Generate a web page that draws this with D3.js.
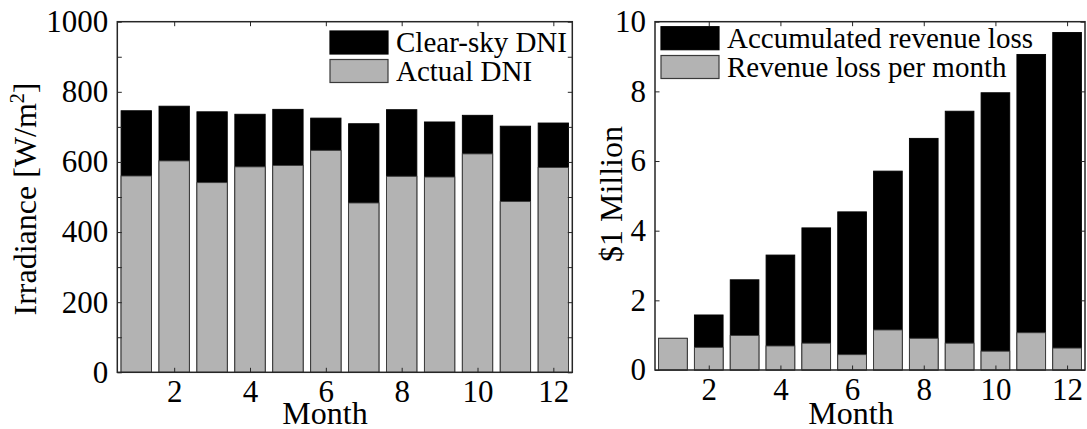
<!DOCTYPE html>
<html>
<head>
<meta charset="utf-8">
<script src="https://cdn.jsdelivr.net/npm/d3@7/dist/d3.min.js"></script>
<style>
  html, body { margin: 0; padding: 0; background: #fff; }
  svg { display: block; }
  text { font-family: "Liberation Serif", "Times New Roman", serif; fill: #000; }
</style>
</head>
<body>
<svg id="chart" width="1087" height="429"></svg>
<script>
// Monthly values
const months = [1, 2, 3, 4, 5, 6, 7, 8, 9, 10, 11, 12];
const monthTicks = [2, 4, 6, 8, 10, 12];

// Left panel: irradiance [W/m^2]
const clearSkyDNI = [746, 759, 743, 736, 750, 725, 709, 749, 714, 733, 702, 711];
const actualDNI   = [560, 603, 541, 586, 590, 633, 483, 559, 557, 623, 487, 584];
const irradianceTicks = [0, 200, 400, 600, 800, 1000];
const irradianceMinorTicks = [100, 300, 500, 700, 900];

// Right panel: revenue loss [$1 Million]
const accumulatedLoss = [0.91, 1.58, 2.59, 3.30, 4.08, 4.54, 5.71, 6.65, 7.43, 7.96, 9.06, 9.69];
const monthlyLoss     = [0.91, 0.65, 0.99, 0.69, 0.77, 0.44, 1.15, 0.91, 0.77, 0.54, 1.07, 0.63];
const lossTicks = [0, 2, 4, 6, 8, 10];

const BLACK = "#000";
const GRAY = "#b3b3b3";
const FRAME = "#262626";
const TICK_LEN = 4.5;

const svg = d3.select("#chart");
svg.append("rect").attr("width", 1087).attr("height", 429).attr("fill", "#fff");

function drawPanel(cfg) {
  const x = d3.scaleLinear().domain([0.5, 12.5]).range([cfg.left, cfg.right]);
  const y = d3.scaleLinear().domain(cfg.yDomain).range([cfg.bottom, cfg.top]);
  const g = svg.append("g");
  const barW = x(0.8) - x(0);

  // Overlaid bars: back series first, then front series from zero
  [[cfg.back, BLACK, "#000"], [cfg.front, GRAY, "#3a3a3a"]].forEach(([vals, fill, stroke]) => {
    g.append("g").selectAll("rect")
      .data(months)
      .join("rect")
      .attr("x", (m) => x(m) - barW / 2)
      .attr("width", barW)
      .attr("y", (m, i) => y(vals[i]))
      .attr("height", (m, i) => y(0) - y(vals[i]))
      .attr("fill", fill)
      .attr("stroke", stroke)
      .attr("stroke-width", 0.9);
  });

  // Axes with inward ticks on all four sides
  const styleAxis = (sel) => {
    sel.select(".domain").remove();
    sel.selectAll(".tick line").attr("stroke", FRAME).attr("stroke-width", 1);
    sel.selectAll(".tick text")
      .style("font-family", '"Liberation Serif", "Times New Roman", serif')
      .style("font-size", "31px")
      .attr("fill", "#000");
  };

  g.append("g").attr("transform", `translate(0,${cfg.bottom})`)
    .call(d3.axisBottom(x).tickValues(monthTicks).tickSize(-TICK_LEN).tickPadding(8).tickFormat(d3.format("d")))
    .call(styleAxis);
  g.append("g").attr("transform", `translate(0,${cfg.top})`)
    .call(d3.axisTop(x).tickValues(monthTicks).tickSize(-TICK_LEN).tickFormat(""))
    .call(styleAxis);
  g.append("g").attr("transform", `translate(${cfg.left},0)`)
    .call(d3.axisLeft(y).tickValues(cfg.yTicks).tickSize(-TICK_LEN).tickPadding(9).tickFormat(d3.format("d")))
    .call(styleAxis);
  g.append("g").attr("transform", `translate(${cfg.right},0)`)
    .call(d3.axisRight(y).tickValues(cfg.yTicks).tickSize(-TICK_LEN).tickFormat(""))
    .call(styleAxis);
  if (cfg.yMinor) {
    g.append("g").attr("transform", `translate(${cfg.left},0)`)
      .call(d3.axisLeft(y).tickValues(cfg.yMinor).tickSize(-TICK_LEN).tickFormat(""))
      .call(styleAxis);
    g.append("g").attr("transform", `translate(${cfg.right},0)`)
      .call(d3.axisRight(y).tickValues(cfg.yMinor).tickSize(-TICK_LEN).tickFormat(""))
      .call(styleAxis);
  }

  // Box frame
  g.append("rect")
    .attr("x", cfg.left).attr("y", cfg.top)
    .attr("width", cfg.right - cfg.left).attr("height", cfg.bottom - cfg.top)
    .attr("fill", "none").attr("stroke", FRAME).attr("stroke-width", 1.5);

  // Axis titles
  g.append("text")
    .attr("x", cfg.xLabelX).attr("y", 424)
    .attr("text-anchor", "middle")
    .style("font-size", "32px")
    .text("Month");

  const yl = g.append("text")
    .attr("transform", `translate(${cfg.yLabelX},${cfg.yLabelY}) rotate(-90)`)
    .attr("text-anchor", "middle")
    .style("font-size", "32px");
  cfg.yLabel(yl);

  // Legend (no box)
  cfg.legend.forEach((item, i) => {
    g.append("rect")
      .attr("x", cfg.legX).attr("y", cfg.legY[i])
      .attr("width", 58).attr("height", 23)
      .attr("fill", item.fill)
      .attr("stroke", item.fill === BLACK ? "#000" : "#3a3a3a")
      .attr("stroke-width", 1.2);
    g.append("text")
      .attr("x", cfg.legX + 66).attr("y", cfg.legY[i] + 21)
      .style("font-size", "29px")
      .text(item.label);
  });
}

drawPanel({
  left: 117.3, right: 572.3, top: 21.7, bottom: 372.3,
  yDomain: [0, 1000], yTicks: irradianceTicks, yMinor: irradianceMinorTicks,
  back: clearSkyDNI, front: actualDNI,
  xLabelX: 325,
  yLabelX: 36, yLabelY: 199,
  yLabel: (t) => {
    t.append("tspan").text("Irradiance [W/m");
    t.append("tspan").attr("dy", -12).style("font-size", "20px").text("2");
    t.append("tspan").attr("dy", 12).text("]");
  },
  legX: 330, legY: [31, 59.5],
  legend: [{ fill: BLACK, label: "Clear-sky DNI" }, { fill: GRAY, label: "Actual DNI" }]
});

drawPanel({
  left: 655, right: 1085, top: 21.7, bottom: 370,
  yDomain: [0, 10], yTicks: lossTicks, yMinor: null,
  back: accumulatedLoss, front: monthlyLoss,
  xLabelX: 851,
  yLabelX: 622, yLabelY: 194,
  yLabel: (t) => { t.text("$1 Million"); },
  legX: 661, legY: [26.7, 55.5],
  legend: [{ fill: BLACK, label: "Accumulated revenue loss" }, { fill: GRAY, label: "Revenue loss per month" }]
});
</script>
</body>
</html>
